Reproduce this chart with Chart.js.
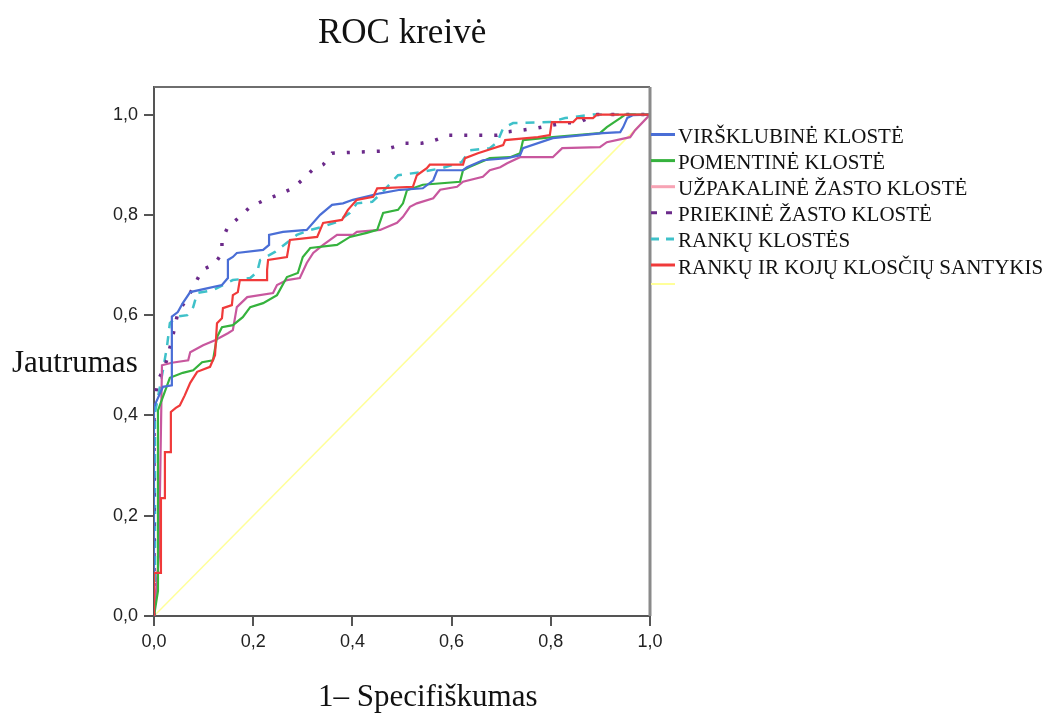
<!DOCTYPE html>
<html>
<head>
<meta charset="utf-8">
<script src="https://cdn.jsdelivr.net/npm/chart.js@4"></script>
<style>
  html, body { margin: 0; padding: 0; background: #fff; }
  #roc { display: block; }
</style>
</head>
<body>
<canvas id="roc" width="1051" height="716"></canvas>
<script>
"use strict";

// 1: data
const chartTitle = "ROC kreivė";
const xTitle = "1– Specifiškumas";
const yTitle = "Jautrumas";

const tickValues = [0, 0.2, 0.4, 0.6, 0.8, 1.0];
const tickLabels = ["0,0", "0,2", "0,4", "0,6", "0,8", "1,0"];

const seriesNames = [
  "VIRŠKLUBINĖ KLOSTĖ",
  "POMENTINĖ KLOSTĖ",
  "UŽPAKALINĖ ŽASTO KLOSTĖ",
  "PRIEKINĖ ŽASTO KLOSTĖ",
  "RANKŲ KLOSTĖS",
  "RANKŲ IR KOJŲ KLOSČIŲ SANTYKIS"
];

// 1 - specificity (x) and sensitivity (y) for each curve
const virsklubX = [0, 0, 0.018, 0.036, 0.036, 0.048, 0.058, 0.073, 0.109, 0.137, 0.149, 0.149, 0.159, 0.167, 0.22, 0.232, 0.232, 0.26, 0.308, 0.335, 0.359, 0.381, 0.401, 0.456, 0.496, 0.542, 0.563, 0.571, 0.623, 0.631, 0.663, 0.712, 0.738, 0.744, 0.804, 0.905, 0.94, 0.946, 0.954, 0.966, 1];
const virsklubY = [0, 0.417, 0.457, 0.46, 0.597, 0.606, 0.624, 0.646, 0.654, 0.66, 0.674, 0.71, 0.716, 0.724, 0.73, 0.74, 0.76, 0.766, 0.77, 0.8, 0.82, 0.823, 0.83, 0.843, 0.85, 0.853, 0.869, 0.889, 0.889, 0.895, 0.909, 0.913, 0.919, 0.933, 0.953, 0.963, 0.965, 0.975, 0.993, 0.999, 1];

const pomentX = [0, 0.008, 0.008, 0.018, 0.032, 0.058, 0.079, 0.097, 0.119, 0.127, 0.137, 0.159, 0.179, 0.194, 0.22, 0.248, 0.268, 0.29, 0.3, 0.315, 0.369, 0.395, 0.429, 0.45, 0.462, 0.492, 0.502, 0.51, 0.542, 0.617, 0.623, 0.637, 0.677, 0.718, 0.738, 0.744, 0.804, 0.899, 0.913, 0.94, 0.95, 1];
const pomentY = [0, 0.05, 0.41, 0.437, 0.475, 0.485, 0.49, 0.506, 0.51, 0.556, 0.576, 0.58, 0.596, 0.616, 0.624, 0.64, 0.676, 0.684, 0.716, 0.734, 0.74, 0.756, 0.764, 0.77, 0.804, 0.81, 0.823, 0.849, 0.86, 0.866, 0.889, 0.896, 0.913, 0.915, 0.923, 0.949, 0.955, 0.963, 0.975, 0.993, 1, 1];

const uzpakX = [0, 0.01, 0.016, 0.016, 0.036, 0.069, 0.073, 0.099, 0.123, 0.149, 0.159, 0.167, 0.188, 0.24, 0.248, 0.268, 0.294, 0.308, 0.321, 0.341, 0.369, 0.401, 0.409, 0.456, 0.49, 0.502, 0.516, 0.53, 0.563, 0.577, 0.611, 0.623, 0.663, 0.677, 0.698, 0.712, 0.738, 0.804, 0.823, 0.899, 0.913, 0.96, 0.97, 1];
const uzpakY = [0, 0.12, 0.497, 0.5, 0.505, 0.51, 0.526, 0.54, 0.55, 0.564, 0.57, 0.616, 0.636, 0.644, 0.66, 0.67, 0.674, 0.704, 0.724, 0.74, 0.76, 0.76, 0.766, 0.77, 0.784, 0.796, 0.816, 0.823, 0.833, 0.85, 0.856, 0.866, 0.876, 0.889, 0.895, 0.903, 0.915, 0.915, 0.933, 0.935, 0.945, 0.955, 0.969, 1];

const priekX = [0, 0, 0.008, 0.022, 0.036, 0.048, 0.073, 0.097, 0.123, 0.137, 0.137, 0.149, 0.173, 0.194, 0.224, 0.25, 0.28, 0.298, 0.319, 0.341, 0.359, 0.456, 0.482, 0.506, 0.54, 0.567, 0.593, 0.692, 0.708, 0.742, 0.772, 0.825, 0.859, 0.879, 0.893, 1];
const priekY = [0, 0.425, 0.47, 0.497, 0.55, 0.604, 0.644, 0.69, 0.703, 0.724, 0.75, 0.776, 0.796, 0.816, 0.83, 0.84, 0.853, 0.869, 0.889, 0.9, 0.923, 0.927, 0.935, 0.943, 0.943, 0.949, 0.959, 0.959, 0.965, 0.969, 0.973, 0.983, 0.985, 0.995, 1, 1];

const rankuX = [0, 0.002, 0.002, 0.012, 0.018, 0.026, 0.032, 0.046, 0.067, 0.079, 0.087, 0.119, 0.127, 0.159, 0.194, 0.208, 0.214, 0.244, 0.288, 0.315, 0.339, 0.369, 0.395, 0.409, 0.44, 0.46, 0.492, 0.536, 0.58, 0.62, 0.637, 0.677, 0.692, 0.704, 0.724, 0.798, 0.829, 0.885, 1];
const rankuY = [0, 0.05, 0.405, 0.457, 0.49, 0.536, 0.584, 0.597, 0.6, 0.616, 0.644, 0.65, 0.654, 0.67, 0.674, 0.686, 0.71, 0.726, 0.76, 0.77, 0.776, 0.786, 0.804, 0.823, 0.826, 0.845, 0.879, 0.885, 0.893, 0.905, 0.929, 0.933, 0.945, 0.973, 0.983, 0.985, 0.993, 1, 1];

const santykX = [0, 0, 0.014, 0.014, 0.022, 0.022, 0.034, 0.034, 0.044, 0.052, 0.062, 0.073, 0.087, 0.113, 0.123, 0.127, 0.137, 0.139, 0.157, 0.159, 0.169, 0.173, 0.228, 0.228, 0.23, 0.268, 0.274, 0.329, 0.335, 0.341, 0.379, 0.391, 0.409, 0.442, 0.45, 0.522, 0.53, 0.55, 0.556, 0.623, 0.627, 0.653, 0.704, 0.708, 0.774, 0.798, 0.802, 0.845, 0.853, 0.885, 0.893, 1];
const santykY = [0, 0.086, 0.086, 0.235, 0.235, 0.327, 0.327, 0.407, 0.415, 0.42, 0.44, 0.465, 0.487, 0.497, 0.52, 0.584, 0.594, 0.614, 0.62, 0.64, 0.646, 0.67, 0.67, 0.69, 0.71, 0.716, 0.75, 0.756, 0.77, 0.784, 0.79, 0.81, 0.83, 0.836, 0.853, 0.856, 0.879, 0.893, 0.9, 0.9, 0.913, 0.923, 0.939, 0.949, 0.955, 0.959, 0.985, 0.985, 0.993, 0.993, 1, 1];

const diagX = [0, 1];
const diagY = [0, 1];

// 2: styles per curve
const lineColors = ["#4a6ed6", "#35b23d", "#c8579e", "#6b2a8a", "#3fc1c9", "#f03a3a"];
const legendColors = ["#4a6ed6", "#35b23d", "#f7a3b4", "#6b2a8a", "#3fc1c9", "#f03a3a"];
const lineDashes = [[], [], [], [3, 12], [9, 8], []];
const lineWidths = [2.2, 2.2, 2.2, 3.5, 2.5, 2.2];

function toPoints(xs, ys) {
  return xs.map((x, i) => ({ x: x, y: ys[i] }));
}

const curves = [
  [virsklubX, virsklubY],
  [pomentX, pomentY],
  [uzpakX, uzpakY],
  [priekX, priekY],
  [rankuX, rankuY],
  [santykX, santykY]
];

let datasets = curves.map((c, i) => ({
  label: seriesNames[i],
  data: toPoints(c[0], c[1]),
  borderColor: lineColors[i],
  borderWidth: lineWidths[i],
  borderDash: lineDashes[i],
  pointRadius: 0,
  fill: false,
  tension: 0,
  order: i === 5 ? 0 : i + 1
}));

// reference diagonal
datasets.push({
  label: "",
  data: toPoints(diagX, diagY),
  borderColor: "#ffff99",
  borderWidth: 1.5,
  pointRadius: 0,
  fill: false,
  order: 10
});

// 3: texts, frame and legend drawn on top
const extras = {
  id: "extras",
  afterDraw(chart) {
    const ctx = chart.ctx;
    const area = chart.chartArea;
    ctx.save();

    // top and right edge of the frame
    ctx.strokeStyle = "#6e6e6e";
    ctx.lineWidth = 2;
    ctx.beginPath();
    ctx.moveTo(area.left, area.top);
    ctx.lineTo(area.right, area.top);
    ctx.stroke();
    ctx.strokeStyle = "#8a8a8a";
    ctx.lineWidth = 3;
    ctx.beginPath();
    ctx.moveTo(area.right, area.top);
    ctx.lineTo(area.right, area.bottom);
    ctx.stroke();

    ctx.fillStyle = "#111";
    ctx.textAlign = "left";
    ctx.textBaseline = "alphabetic";
    ctx.font = "35px 'Liberation Serif'";
    ctx.fillText(chartTitle, 318, 43);
    ctx.font = "31px 'Liberation Serif'";
    ctx.fillText(yTitle, 12, 372);
    ctx.fillText(xTitle, 318, 706);

    // legend
    ctx.font = "21px 'Liberation Serif'";
    ctx.textBaseline = "middle";
    seriesNames.forEach((name, i) => {
      const cy = 137.5 + i * 26.1;
      ctx.strokeStyle = legendColors[i];
      ctx.lineWidth = 3;
      ctx.setLineDash(i === 3 ? [6, 9] : (i === 4 ? [8, 7] : []));
      ctx.beginPath();
      ctx.moveTo(area.right + 1, cy - 3);
      ctx.lineTo(area.right + 25, cy - 3);
      ctx.stroke();
      ctx.setLineDash([]);
      ctx.fillStyle = "#111";
      ctx.fillText(name, 678, cy);
    });
    ctx.strokeStyle = "#ffff99";
    ctx.lineWidth = 2;
    ctx.beginPath();
    ctx.moveTo(area.right + 1, 284);
    ctx.lineTo(area.right + 25, 284);
    ctx.stroke();

    ctx.restore();
  }
};

// 4: the chart
const canvas = document.getElementById("roc");
new Chart(canvas, {
  type: "line",
  data: { datasets: datasets },
  options: {
    responsive: false,
    animation: false,
    devicePixelRatio: 1,
    layout: { padding: { left: 0, top: 87, right: 401, bottom: 0 } },
    plugins: {
      legend: { display: false },
      title: { display: false },
      tooltip: { enabled: false }
    },
    scales: {
      x: {
        type: "linear",
        min: 0,
        max: 1,
        afterFit(scale) { scale.height = 100; },
        afterBuildTicks(scale) { scale.ticks = tickValues.map(v => ({ value: v })); },
        border: { display: true, color: "#555", width: 2 },
        grid: { drawOnChartArea: false, drawTicks: true, tickLength: 10, color: "#555", lineWidth: 2 },
        ticks: {
          padding: 5,
          color: "#222",
          font: { family: "'Liberation Sans'", size: 18 },
          callback: (v) => tickLabels[tickValues.indexOf(v)],
          maxRotation: 0
        }
      },
      y: {
        type: "linear",
        min: 0,
        max: 1.055,
        afterFit(scale) { scale.width = 154; },
        afterBuildTicks(scale) { scale.ticks = tickValues.map(v => ({ value: v })); },
        border: { display: true, color: "#555", width: 2 },
        grid: { drawOnChartArea: false, drawTicks: true, tickLength: 10, color: "#555", lineWidth: 2 },
        ticks: {
          padding: 6,
          color: "#222",
          font: { family: "'Liberation Sans'", size: 18 },
          callback: (v) => tickLabels[tickValues.indexOf(v)]
        }
      }
    }
  },
  plugins: [extras]
});
</script>
</body>
</html>
